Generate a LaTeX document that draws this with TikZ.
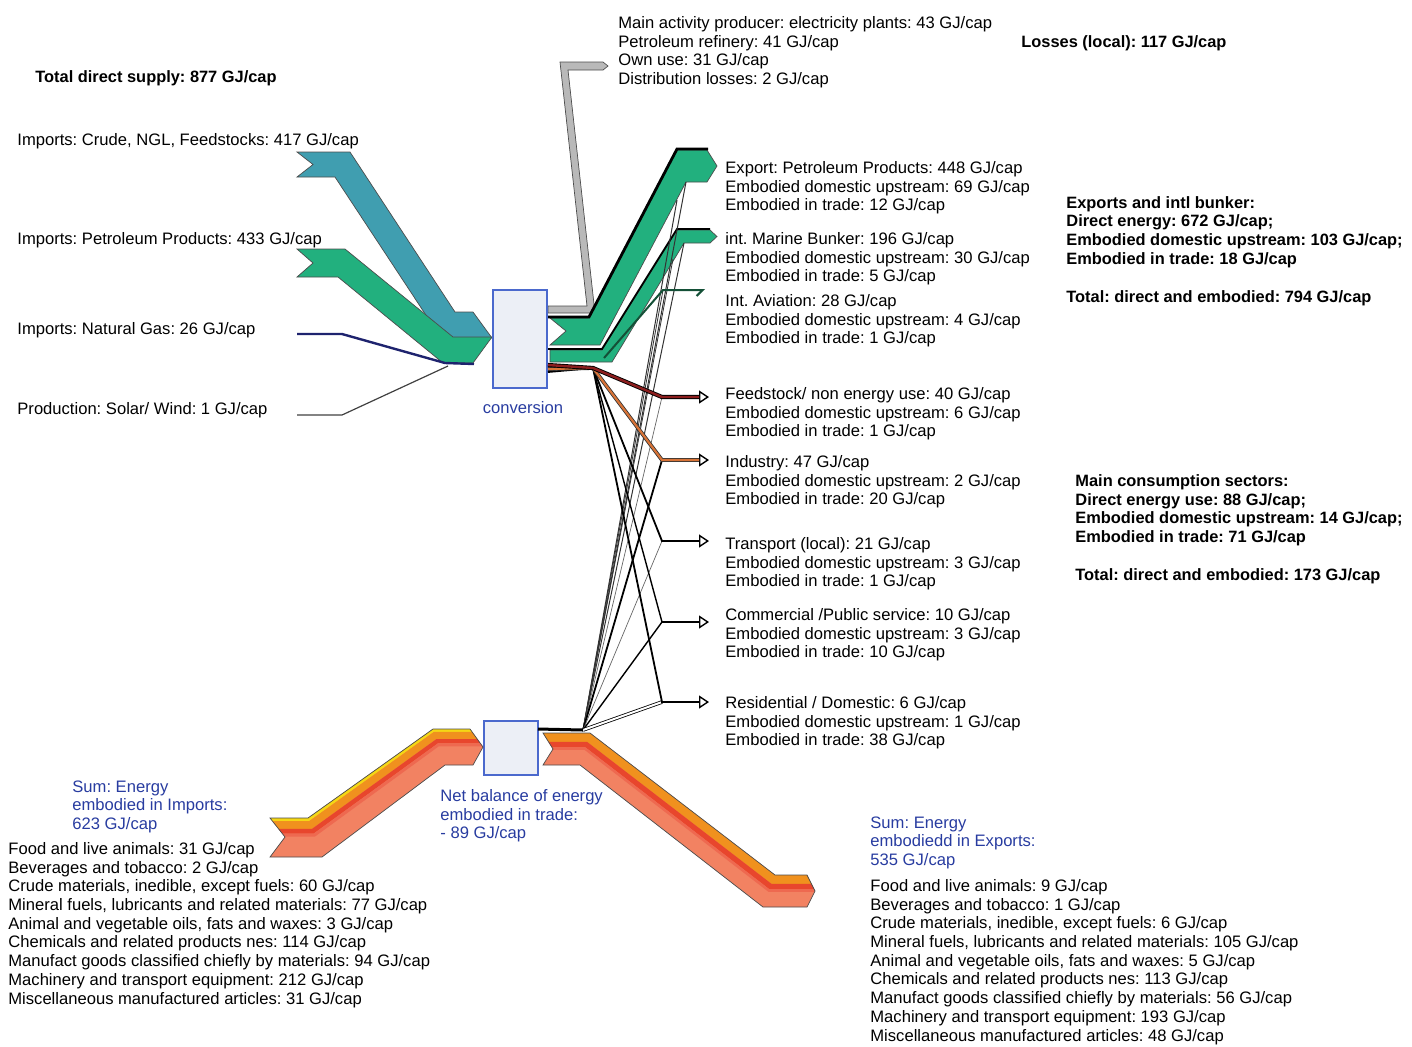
\documentclass[tikz,border=0pt]{standalone}
\usepackage{fontspec}
\setmainfont{Liberation Sans}
\usetikzlibrary{arrows.meta,calc}
\frenchspacing

\definecolor{crudeteal}{RGB}{64,158,176}
\definecolor{petgreen}{RGB}{34,176,126}
\definecolor{avgreen}{RGB}{20,80,55}
\definecolor{gasnavy}{RGB}{30,35,110}
\definecolor{owngray}{RGB}{185,185,185}
\definecolor{labelblue}{RGB}{40,60,160}
\definecolor{boxblue}{RGB}{75,105,205}
\definecolor{boxfill}{RGB}{236,239,246}
\definecolor{tradeyellow}{RGB}{245,215,20}
\definecolor{tradeorange}{RGB}{240,145,30}
\definecolor{tradered}{RGB}{232,70,45}
\definecolor{tradepink}{RGB}{238,105,80}
\definecolor{tradesalmon}{RGB}{242,130,98}
\definecolor{feedbrown}{RGB}{140,30,30}
\definecolor{indorange}{RGB}{215,115,55}

% stripe of a trade band: prefix, from, to, colour
\newcommand{\bandstripe}[4]{%
  \fill[#4] ($(#1t0)!#2!(#1b0)$) -- ($(#1t1)!#2!(#1b1)$) -- ($(#1t2)!#2!(#1b2)$) -- ($(#1t3)!#2!(#1b3)$)
    -- ($(#1t3)!#3!(#1b3)$) -- ($(#1t2)!#3!(#1b2)$) -- ($(#1t1)!#3!(#1b1)$) -- ($(#1t0)!#3!(#1b0)$) -- cycle;}

\tikzset{
  lbl/.style={anchor=north west, inner sep=0pt, align=left, font=\fontsize{8.3}{9.35}\selectfont},
  boldlbl/.style={lbl, font=\fontsize{8.2}{9.35}\selectfont\bfseries},
  bluelbl/.style={lbl, text=labelblue},
  flowbox/.style={draw=boxblue, line width=0.7pt, fill=boxfill, inner sep=0pt},
  bandedge/.style={draw=black!70, line width=0.35pt},
  sectortip/.style={-{Triangle[open,length=5pt,width=6.5pt,line width=0.7pt]}, line width=0.6pt},
  fsflow/.style={draw=black, double=feedbrown, double distance=1.2pt, line width=0.45pt},
  indflow/.style={draw=black!80, double=indorange, double distance=1.1pt, line width=0.4pt},
  resflow/.style={draw=black, double=white, double distance=1pt, line width=0.4pt},
}

\begin{document}
\begin{tikzpicture}[x=0.5pt,y=0.5pt,yscale=-1,xscale=1]
\useasboundingbox (0,0) rectangle (1412,1046);

%Shape: crude imports
\draw[bandedge, fill=crudeteal] (297,152) -- (350,152) -- (455,312) -- (473,312) -- (492,338) -- (441,338) -- (335,177) -- (297,177) -- (313,164.5) -- cycle;
%Shape: petroleum product imports
\draw[bandedge, fill=petgreen] (297,249) -- (345,249) -- (453,337) -- (492,337) -- (473,363) -- (443,363) -- (338,277) -- (297,277) -- (313,263) -- cycle;

% gas and solar
\coordinate (gass) at (297,334);
\coordinate (gasb) at (342,334);
\coordinate (gase) at (474,364);
\coordinate (sols) at (297,415);
\coordinate (solb) at (342,415);
\coordinate (sole) at (448,366);
\draw[gasnavy, line width=1.2pt] (gass) -- (gasb) -- (445,363) -- (gase);
\draw[black!75, line width=0.6pt] (sols) -- (solb) -- (sole);

%Shape: own use (grey)
\draw[bandedge, fill=owngray] (548,306) -- (587,306) -- (560,62) -- (603,62) -- (608,66) -- (603,70) -- (568,70) -- (595,313) -- (548,313) -- cycle;

%Shape: export band
\draw[bandedge, fill=petgreen] (550,318) -- (588,318) -- (676,150) -- (707,150) -- (717,166) -- (707,182) -- (686,182) -- (600,345) -- (550,345) -- (566,331) -- cycle;
\draw[line width=1.4pt] (548,317) -- (589,317) -- (677,149) -- (708,149);
%Shape: marine bunker band
\draw[bandedge, fill=petgreen] (550,350) -- (602,350) -- (677,230) -- (710,230) -- (717,236.5) -- (710,243) -- (684,243) -- (612,362) -- (550,362) -- cycle;
\draw[line width=0.9pt] (548,349) -- (602,349) -- (677,229) -- (710,229);

% boxes
\node[flowbox, minimum width=27pt, minimum height=49pt] (conv) at (520,339) {};
\node[flowbox, minimum width=27pt, minimum height=27pt] (trade) at (511,748) {};

%Shape: energy embodied in imports
\coordinate (imt0) at (230,818); \coordinate (imt1) at (308,818);
\coordinate (imt2) at (433,729); \coordinate (imt3) at (520,729);
\coordinate (imb0) at (230,857); \coordinate (imb1) at (322,857);
\coordinate (imb2) at (445,765); \coordinate (imb3) at (520,765);
\begin{scope}
\clip (270,818) -- (308,818) -- (433,729) -- (470,729) -- (483,747) -- (473,765) -- (445,765) -- (322,857) -- (270,857) -- (285,837) -- cycle;
\fill[tradesalmon] (200,700) rectangle (520,880);
\bandstripe{im}{0}{0.08}{tradeyellow}
\bandstripe{im}{0.08}{0.28}{tradeorange}
\bandstripe{im}{0.28}{0.40}{tradered}
\bandstripe{im}{0.40}{0.48}{tradepink}
\end{scope}
\draw[bandedge] (270,818) -- (308,818) -- (433,729) -- (470,729) -- (483,747) -- (473,765) -- (445,765) -- (322,857) -- (270,857) -- (285,837) -- cycle;

%Shape: energy embodied in exports
\coordinate (ext0) at (510,733); \coordinate (ext1) at (590,733);
\coordinate (ext2) at (775,875); \coordinate (ext3) at (850,875);
\coordinate (exb0) at (510,765); \coordinate (exb1) at (580,765);
\coordinate (exb2) at (763,907); \coordinate (exb3) at (850,907);
\begin{scope}
\clip (543,733) -- (590,733) -- (775,875) -- (807,875) -- (815,891) -- (807,907) -- (763,907) -- (580,765) -- (543,765) -- (553,749) -- cycle;
\fill[tradesalmon] (530,720) rectangle (830,920);
\bandstripe{ex}{0}{0.28}{tradeorange}
\bandstripe{ex}{0.28}{0.45}{tradered}
\bandstripe{ex}{0.45}{0.53}{tradepink}
\end{scope}
\draw[bandedge] (543,733) -- (590,733) -- (775,875) -- (807,875) -- (815,891) -- (807,907) -- (763,907) -- (580,765) -- (543,765) -- (553,749) -- cycle;

% junctions
\coordinate (J1) at (593,368);
\coordinate (J2) at (583,730);
\coordinate (trdE) at (538,729);
\coordinate (xpb) at (686,182);
\coordinate (xpc) at (677,200);
\coordinate (mrb) at (684,243);
\coordinate (mrc) at (673,259);
\coordinate (avs) at (604,358);
\coordinate (avj) at (663,290);
\coordinate (ave) at (705,290);
\foreach \s/\y in {fs/397,ind/460,tr/541,com/622,res/702}{
  \coordinate (\s j) at (662,\y);
  \coordinate (\s e) at (699,\y);
  \coordinate (\s t) at (709,\y);
}

% sector arrows
\foreach \s in {fs,ind,tr,com,res}
  \draw[sectortip] (\s j) -- (\s t);

% embodied in trade
\draw[black!80, line width=0.5pt] (J2) -- (xpb);
\draw[black!80, line width=0.5pt] (J2) -- (xpc);
\draw[black!80, line width=0.5pt] (J2) -- (mrb);
\draw[black!80, line width=0.4pt] (J2) -- (mrc);
\draw[black!80, line width=0.4pt] (J2) -- (avj);
\draw[black!60, line width=0.35pt] (J2) -- (fsj);
\draw[black, line width=0.9pt] (J2) -- (indj);
\draw[black!60, line width=0.35pt] (J2) -- (trj);
\draw[black, line width=0.7pt] (J2) -- (comj);
\draw[resflow] (J2) -- (resj);
\draw[black, line width=1.5pt] (trdE) -- (J2);

% direct use
\draw[black, line width=0.9pt] (548,372) -- (J1) -- (trj) -- (tre);
\draw[black, line width=0.7pt] (J1) -- (comj) -- (come);
\draw[black, line width=0.9pt] (J1) -- (resj) -- (rese);
\draw[indflow] (548,369) -- (J1) -- (indj) -- (inde);
\draw[fsflow] (548,365) -- (J1) -- (fsj) -- (fse);
\draw[avgreen, line width=1pt, -{Straight Barb[right,length=3pt,width=6pt]}] (avs) -- (avj) -- (ave);

% Text Node
\node[lbl] (tplab) at (618,16) {Main activity producer: electricity plants: 43 GJ/cap\\Petroleum refinery: 41 GJ/cap\\Own use: 31 GJ/cap\\Distribution losses: 2 GJ/cap};
% Text Node
\node[boldlbl] (losslab) at (1021,35) {Losses (local): 117 GJ/cap};
% Text Node
\node[boldlbl] (supplab) at (35,70) {Total direct supply: 877 GJ/cap};
% Text Node
\node[lbl] (crudelab) at (17,133) {Imports: Crude, NGL, Feedstocks: 417 GJ/cap};
% Text Node
\node[lbl] (petlab) at (17,232) {Imports: Petroleum Products: 433 GJ/cap};
% Text Node
\node[lbl] (gaslab) at (17,322) {Imports: Natural Gas: 26 GJ/cap};
% Text Node
\node[lbl] (sollab) at (17,402) {Production: Solar/ Wind: 1 GJ/cap};
% Text Node
\node[bluelbl, anchor=center] (convlab) at (523,408) {conversion};

% Text Node
\node[lbl] (xplab) at (725,161) {Export: Petroleum Products: 448 GJ/cap\\Embodied domestic upstream: 69 GJ/cap\\Embodied in trade: 12 GJ/cap};
% Text Node
\node[lbl] (mrlab) at (725,232) {int. Marine Bunker: 196 GJ/cap\\Embodied domestic upstream: 30 GJ/cap\\Embodied in trade: 5 GJ/cap};
% Text Node
\node[lbl] (avlab) at (725,294) {Int. Aviation: 28 GJ/cap\\Embodied domestic upstream: 4 GJ/cap\\Embodied in trade: 1 GJ/cap};
% Text Node
\node[lbl] (fslab) at (725,387) {Feedstock/ non energy use: 40 GJ/cap\\Embodied domestic upstream: 6 GJ/cap\\Embodied in trade: 1 GJ/cap};
% Text Node
\node[lbl] (indlab) at (725,455) {Industry: 47 GJ/cap\\Embodied domestic upstream: 2 GJ/cap\\Embodied in trade: 20 GJ/cap};
% Text Node
\node[lbl] (trlab) at (725,537) {Transport (local): 21 GJ/cap\\Embodied domestic upstream: 3 GJ/cap\\Embodied in trade: 1 GJ/cap};
% Text Node
\node[lbl] (comlab) at (725,608) {Commercial /Public service: 10 GJ/cap\\Embodied domestic upstream: 3 GJ/cap\\Embodied in trade: 10 GJ/cap};
% Text Node
\node[lbl] (reslab) at (725,696) {Residential / Domestic: 6 GJ/cap\\Embodied domestic upstream: 1 GJ/cap\\Embodied in trade: 38 GJ/cap};

% Text Node
\node[boldlbl] (xpsum) at (1066,196) {Exports and intl bunker:\\Direct energy: 672 GJ/cap;\\Embodied domestic upstream: 103 GJ/cap;\\Embodied in trade: 18 GJ/cap};
% Text Node
\node[boldlbl] (xptot) at (1066,290) {Total: direct and embodied: 794 GJ/cap};
% Text Node
\node[boldlbl] (cssum) at (1075,474) {Main consumption sectors:\\Direct energy use: 88 GJ/cap;\\Embodied domestic upstream: 14 GJ/cap;\\Embodied in trade: 71 GJ/cap};
% Text Node
\node[boldlbl] (cstot) at (1075,568) {Total: direct and embodied: 173 GJ/cap};

% Text Node
\node[bluelbl] (netlab) at (440,789) {Net balance of energy\\embodied in trade:\\- 89 GJ/cap};
% Text Node
\node[bluelbl] (imsum) at (72,780) {Sum: Energy\\embodied in Imports:\\623 GJ/cap};
% Text Node
\node[lbl] (imlist) at (8,842) {Food and live animals: 31 GJ/cap\\Beverages and tobacco: 2 GJ/cap\\Crude materials, inedible, except fuels: 60 GJ/cap\\Mineral fuels, lubricants and related materials: 77 GJ/cap\\Animal and vegetable oils, fats and waxes: 3 GJ/cap\\Chemicals and related products nes: 114 GJ/cap\\Manufact goods classified chiefly by materials: 94 GJ/cap\\Machinery and transport equipment: 212 GJ/cap\\Miscellaneous manufactured articles: 31 GJ/cap};
% Text Node
\node[bluelbl] (exsum) at (870,816) {Sum: Energy\\embodiedd in Exports:\\535 GJ/cap};
% Text Node
\node[lbl] (exlist) at (870,879) {Food and live animals: 9 GJ/cap\\Beverages and tobacco: 1 GJ/cap\\Crude materials, inedible, except fuels: 6 GJ/cap\\Mineral fuels, lubricants and related materials: 105 GJ/cap\\Animal and vegetable oils, fats and waxes: 5 GJ/cap\\Chemicals and related products nes: 113 GJ/cap\\Manufact goods classified chiefly by materials: 56 GJ/cap\\Machinery and transport equipment: 193 GJ/cap\\Miscellaneous manufactured articles: 48 GJ/cap};

\end{tikzpicture}
\end{document}
